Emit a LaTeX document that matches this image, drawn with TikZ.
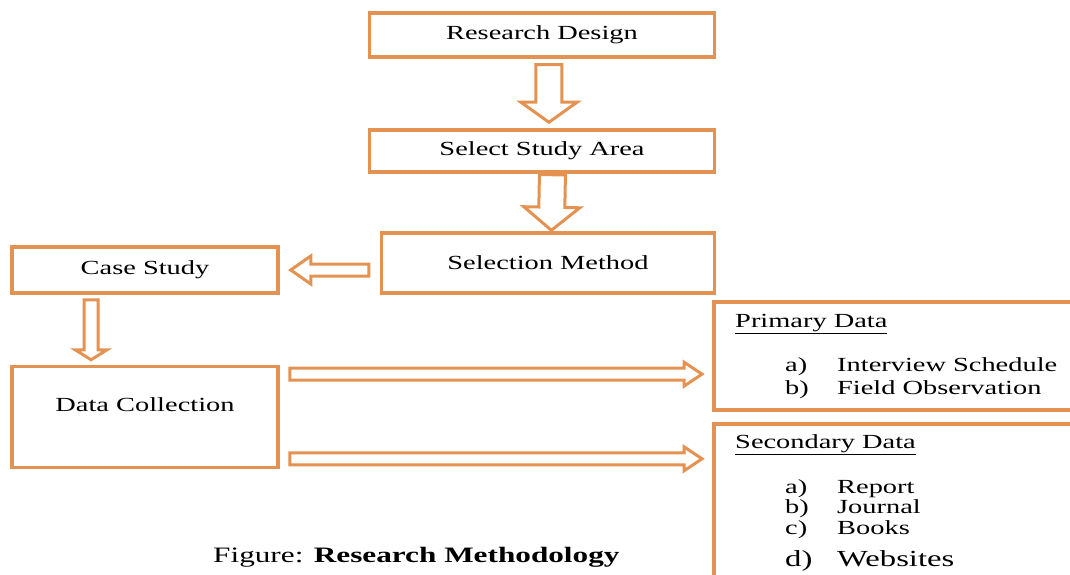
\documentclass[tikz,border=0pt]{standalone}
\usepackage{fontspec}
\setmainfont{Liberation Serif}[FakeStretch=1.42]
\usetikzlibrary{calc}

\definecolor{orng}{RGB}{228,146,82}

\tikzset{
    box/.style={draw=orng, line width=3.5pt, rectangle, inner sep=0pt,
        font=\fontsize{20}{24}\selectfont},
    txt/.style={anchor=base west, inner sep=0pt, font=\fontsize{20}{24}\selectfont},
    blockarrow/.style n args={4}{draw=orng, line width=3pt, line join=miter,
        to path={let \p1=(\tikztostart), \p2=(\tikztotarget),
            \n1={atan2(\y2-\y1,\x2-\x1)}, \n2={veclen(\x2-\x1,\y2-\y1)} in
            ([shift={(\p1)},rotate=\n1]#4,#1)
            -- ([shift={(\p1)},rotate=\n1]\n2-#4-#3,#1)
            -- ([shift={(\p1)},rotate=\n1]\n2-#4-#3,#2)
            -- ([shift={(\p1)},rotate=\n1]\n2-#4,0)
            -- ([shift={(\p1)},rotate=\n1]\n2-#4-#3,-#2)
            -- ([shift={(\p1)},rotate=\n1]\n2-#4-#3,-#1)
            -- ([shift={(\p1)},rotate=\n1]#4,-#1) -- cycle}}
}

\begin{document}
\begin{tikzpicture}[x=1pt, y=-1pt]

    % Page size
    \def\wpage{1070}
    \def\hpage{575}
    \clip (0,0) rectangle (\wpage,\hpage);

    % Main column
    \node[box, minimum width=345, minimum height=44] (rd) at (542,35) {Research Design};
    \node[box, minimum width=345, minimum height=42] (ssa) at (542,151) {Select Study Area};
    \node[box, minimum width=333, minimum height=60] (sm) at (548,263) {Selection Method};

    % Left column
    \node[box, minimum width=266, minimum height=46] (cs) at (145,270) {Case Study};
    \node[box, minimum width=266, minimum height=101, text depth=24pt] (dc) at (145,417) {Data Collection};

    % Data boxes (cut off by the page edge)
    \node[box, anchor=north west, minimum width=400, minimum height=108] (pd) at (712,300) {};
    \node[box, anchor=north west, minimum width=400, minimum height=200] (sd) at (712,422) {};

    % Texts in the data boxes
    \node[txt] (pdhead) at (735,327) {\underline{Primary Data}};
    \node[txt, font=\fontsize{20}{23}\selectfont] (pdlist) at (785,371)
        {\begin{tabular}[t]{@{}p{52pt}@{}l@{}}
            a) & Interview Schedule \\
            b) & Field Observation
        \end{tabular}};
    \node[txt] (sdhead) at (735,448) {\underline{Secondary Data}};
    \node[txt, font=\fontsize{20}{20.5}\selectfont] (sdlist) at (785,493)
        {\begin{tabular}[t]{@{}p{52pt}@{}l@{}}
            a) & Report \\
            b) & Journal \\
            c) & Books \\[10pt]
            {\fontsize{23}{24}\selectfont d)} & {\fontsize{23}{24}\selectfont Websites}
        \end{tabular}};

    % Caption
    \node[txt, font=\fontsize{22}{26}\selectfont] (cap) at (213,562) {Figure: \textbf{Research Methodology}};

    % Arrows
    \draw[blockarrow={13}{28}{20}{6}] ($(rd.south west)!.52!(rd.south east)$) to ($(ssa.north west)!.52!(ssa.north east)$);
    \draw[blockarrow={13}{28}{23}{1}] ($(ssa.south west)!.53!(ssa.south east)$) to ($(sm.north west)!.51!(sm.north east)$);
    \draw[blockarrow={6}{14}{20}{11}] (sm.west |- cs.east) to (cs.east);
    \draw[blockarrow={7}{16}{10}{5}] ($(cs.south west)!.3!(cs.south east)$) to ($(dc.north west)!.3!(dc.north east)$);

    \coordinate (dcup) at ($(dc.north east)!.09!(dc.south east)$);
    \coordinate (dclow) at ($(dc.north east)!.9!(dc.south east)$);
    \draw[blockarrow={6}{12}{18}{10}] (dcup) to (dcup -| pd.west);
    \draw[blockarrow={6}{12}{18}{10}] (dclow) to (dclow -| sd.west);

\end{tikzpicture}
\end{document}
